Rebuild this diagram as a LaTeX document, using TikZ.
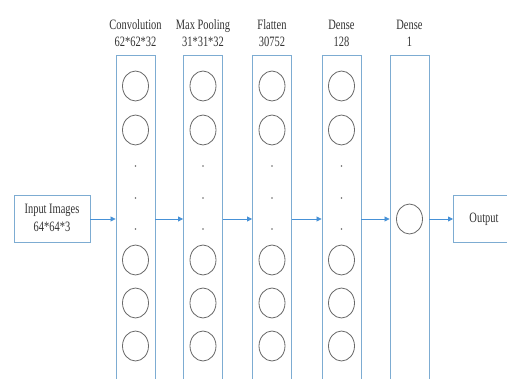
\documentclass[tikz,border=0pt]{standalone}
\usepackage{fontspec}
\setmainfont{Liberation Serif}
\usetikzlibrary{arrows.meta}
\definecolor{boxblue}{RGB}{125,172,210}
\definecolor{arrblue}{RGB}{70,145,215}
\definecolor{circgrey}{RGB}{105,105,105}
\newcommand{\sy}[1]{\scalebox{0.95}[1.3]{#1}}
\tikzset{
  layer/.style={draw=boxblue, line width=0.9pt, minimum width=39pt, minimum height=340pt, anchor=north, inner sep=0pt},
  iobox/.style={draw=boxblue, line width=0.9pt, minimum width=76pt, minimum height=47pt, inner sep=0pt},
  neuron/.style={draw=circgrey, line width=0.8pt, ellipse, minimum width=26pt, minimum height=30pt, inner sep=0pt},
  dotn/.style={fill=circgrey, circle, minimum size=1.8pt, inner sep=0pt},
  hdr/.style={anchor=base, font=\fontsize{11}{12}\selectfont, inner sep=0pt, text=black!80},
  boxtxt/.style={font=\fontsize{11}{12}\selectfont, inner sep=0pt, text=black!80},
  arr/.style={draw=arrblue, line width=0.8pt, -{Triangle[length=5pt,width=5pt]}}
}
\usetikzlibrary{shapes.geometric}
\begin{document}
\begin{tikzpicture}[x=1pt,y=-1pt]
\useasboundingbox (0,0) rectangle (507,379);
\clip (0,0) rectangle (507,379);
\fill[white] (0,0) rectangle (507,379);
% layers
\node[layer] (c1) at (135.5,55) {};
\node[layer] (c2) at (203,55) {};
\node[layer] (c3) at (272,55) {};
\node[layer] (c4) at (341.5,55) {};
\node[layer] (c5) at (409.5,55) {};
% io boxes
\node[iobox] (in) at (52,219) {};
\node[boxtxt] (int1) at (52,210) {\sy{Input Images}};
\node[boxtxt] (int2) at (52,227) {\sy{64*64*3}};
\node[iobox, anchor=west] (out) at (453,219) {};
\node[boxtxt] (outt) at (484,219) {\sy{Output}};
% headers
\node[hdr] (h1a) at (135.5,29.5) {\sy{Convolution}};
\node[hdr] (h1b) at (135.5,46.5) {\sy{62*62*32}};
\node[hdr] (h2a) at (203,29.5) {\sy{Max Pooling}};
\node[hdr] (h2b) at (203,46.5) {\sy{31*31*32}};
\node[hdr] (h3a) at (272,29.5) {\sy{Flatten}};
\node[hdr] (h3b) at (272,46.5) {\sy{30752}};
\node[hdr] (h4a) at (341.5,29.5) {\sy{Dense}};
\node[hdr] (h4b) at (341.5,46.5) {\sy{128}};
\node[hdr] (h5a) at (409.5,29.5) {\sy{Dense}};
\node[hdr] (h5b) at (409.5,46.5) {\sy{1}};
% neurons
\foreach \c/\x in {1/135.5,2/203,3/272,4/341.5}{
  \foreach \i/\y in {1/86,2/130,3/260,4/303,5/346}{
    \node[neuron] (n\c\i) at (\x,\y) {};
  }
  \foreach \j/\y in {1/166,2/198,3/229}{
    \node[dotn] (d\c\j) at (\x,\y) {};
  }
}
\node[neuron] (n51) at (409.5,219) {};
% arrows
\draw[arr] (in.east) -- (in.east -| c1.west);
\draw[arr] (c1.east |- in.east) -- (c2.west |- in.east);
\draw[arr] (c2.east |- in.east) -- (c3.west |- in.east);
\draw[arr] (c3.east |- in.east) -- (c4.west |- in.east);
\draw[arr] (c4.east |- in.east) -- (c5.west |- in.east);
\draw[arr] (c5.east |- in.east) -- (out.west);
\end{tikzpicture}
\end{document}
